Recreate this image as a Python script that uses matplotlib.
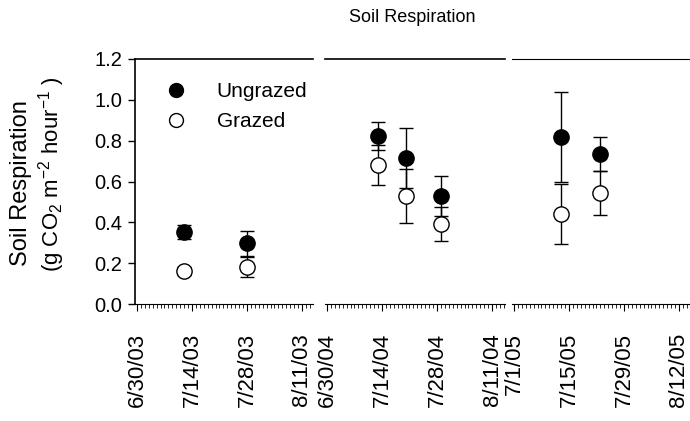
import datetime as dt
import matplotlib
matplotlib.use('Agg')
import matplotlib.pyplot as plt
import matplotlib.dates as mdates
from matplotlib.lines import Line2D

plt.rcParams['font.family'] = ['Liberation Sans', 'DejaVu Sans']
plt.rcParams['mathtext.fontset'] = 'custom'
plt.rcParams['mathtext.rm'] = 'Liberation Sans'
plt.rcParams['mathtext.it'] = 'Liberation Sans:italic'

d = dt.datetime

# one list per season (2003, 2004, 2005)
dates = [
    [d(2003, 7, 12), d(2003, 7, 28)],
    [d(2004, 7, 13), d(2004, 7, 20), d(2004, 7, 29)],
    [d(2005, 7, 13), d(2005, 7, 23)],
]
ungrazed = [[0.353, 0.297], [0.823, 0.715, 0.529], [0.818, 0.735]]
ungrazed_err = [[0.035, 0.06], [0.07, 0.147, 0.098], [0.22, 0.083]]
grazed = [[0.162, 0.18], [0.68, 0.529, 0.392], [0.441, 0.544]]
grazed_err = [[0.02, 0.05], [0.097, 0.132, 0.083], [0.147, 0.108]]

tick_dates = [
    [d(2003, 6, 30), d(2003, 7, 14), d(2003, 7, 28), d(2003, 8, 11)],
    [d(2004, 6, 30), d(2004, 7, 14), d(2004, 7, 28), d(2004, 8, 11)],
    [d(2005, 7, 1), d(2005, 7, 15), d(2005, 7, 29), d(2005, 8, 12)],
]
tick_labels = [
    ['6/30/03', '7/14/03', '7/28/03', '8/11/03'],
    ['6/30/04', '7/14/04', '7/28/04', '8/11/04'],
    ['7/1/05', '7/15/05', '7/29/05', '8/12/05'],
]
yticks = [0.0, 0.2, 0.4, 0.6, 0.8, 1.0, 1.2]

W, H = 690, 421
fig = plt.figure(figsize=(W / 100, H / 100), dpi=100)

# panel extents in pixels (left, right) and length in days
panels = [(135, 313, 45.3), (325, 505, 45.8), (512, 690, 45.3)]
bottom, top = 1 - 304 / H, 1 - 59 / H

axes = []
for i, (x0, x1, ndays) in enumerate(panels):
    ax = fig.add_axes([x0 / W, bottom, (x1 - x0) / W, top - bottom])
    axes.append(ax)
    start = tick_dates[i][0] - dt.timedelta(hours=12)
    ax.set_xlim(start, start + dt.timedelta(days=ndays))
    ax.set_ylim(0, 1.2)

    ax.errorbar(dates[i], grazed[i], yerr=grazed_err[i], fmt='o', ms=11,
                mfc='white', mec='black', mew=1, ecolor='black', elinewidth=1,
                capsize=4.7, capthick=1, zorder=3)
    ax.errorbar(dates[i], ungrazed[i], yerr=ungrazed_err[i], fmt='o', ms=11,
                mfc='black', mec='black', ecolor='black', elinewidth=1,
                capsize=4.7, capthick=1, zorder=4)

    ax.set_xticks(tick_dates[i])
    ax.set_xticklabels(tick_labels[i], rotation=90, fontsize=16)
    ax.xaxis.set_minor_locator(mdates.DayLocator())
    ax.tick_params(axis='x', which='major', length=5, width=0.8, pad=16)
    ax.tick_params(axis='x', which='minor', length=3, width=0.6)

    ax.spines['right'].set_visible(False)
    ax.spines['top'].set_linewidth(1.2 if i < 2 else 0.8)
    ax.spines['bottom'].set_linewidth(0.8)
    if i == 0:
        ax.set_yticks(yticks)
        ax.set_yticklabels([f'{v:.1f}' for v in yticks], fontsize=14.5)
        ax.tick_params(axis='y', length=5, width=1, pad=4)
        ax.spines['left'].set_linewidth(1.2)
    else:
        ax.spines['left'].set_visible(False)
        ax.set_yticks([])

handles = [
    Line2D([], [], ls='none', marker='o', ms=10, mfc='black', mec='black'),
    Line2D([], [], ls='none', marker='o', ms=10, mfc='white', mec='black', mew=1),
]
axes[0].legend(handles, ['Ungrazed', 'Grazed'], loc='upper left',
               bbox_to_anchor=(0.172, 0.905), frameon=False, fontsize=15,
               handlelength=1.0, handletextpad=1.45, labelspacing=0.52,
               borderaxespad=0, borderpad=0)

fig.text(412 / W, 1 - 18 / H, 'Soil Respiration', ha='center', va='center',
         fontsize=13)
fig.text(21 / W, 1 - 183 / H, 'Soil Respiration', rotation=90,
         ha='center', va='center', fontsize=17)
fig.text(52 / W, 1 - 174 / H, r'(g CO$_2$ m$^{-2}$ hour$^{-1}$ )', rotation=90,
         ha='center', va='center', fontsize=16)

fig.savefig('out.png', dpi=100)
